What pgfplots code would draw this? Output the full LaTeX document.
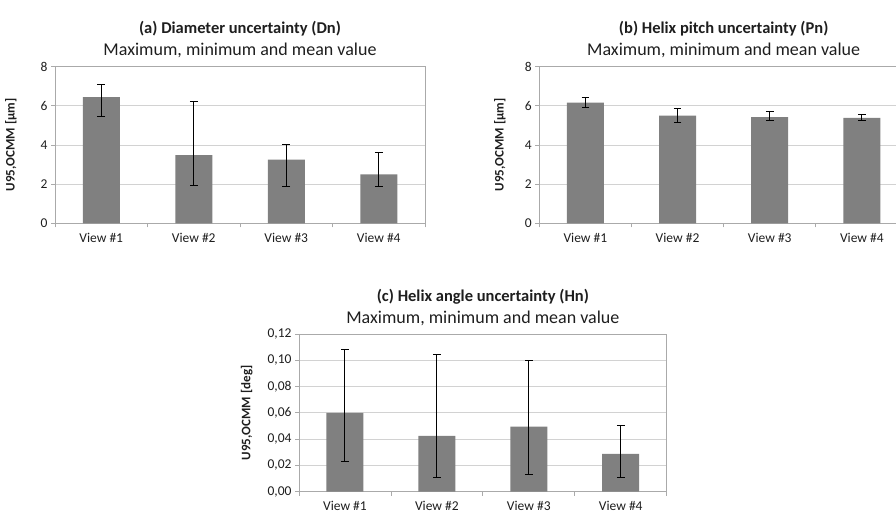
\documentclass[border=0pt]{standalone}
\usepackage{fontspec}
\setmainfont{Carlito}
\usepackage{pgfplots}
\usepackage{pgfplotstable}
\pgfplotsset{compat=1.18}

\pgfplotstableread{
x y max min
0 6.45 7.10 5.45
1 3.48 6.22 1.94
2 3.25 4.02 1.87
3 2.50 3.63 1.87
}\tabA
\pgfplotstableread{
x y max min
0 6.17 6.42 5.90
1 5.50 5.87 5.13
2 5.42 5.69 5.23
3 5.38 5.57 5.24
}\tabB
\pgfplotstableread{
x y max min
0 0.0600 0.1080 0.0230
1 0.0425 0.1045 0.0105
2 0.0495 0.0995 0.0133
3 0.0287 0.0507 0.0105
}\tabC

\definecolor{barg}{RGB}{128,128,128}
\definecolor{gridg}{RGB}{210,210,210}
\definecolor{axg}{RGB}{170,170,170}
\definecolor{txt}{RGB}{30,30,30}

\pgfplotsset{
  myax/.style={
    scale only axis, anchor=south west,
    xmin=-0.5, xmax=3.5, ymin=0,
    xtick={0,1,2,3},
    xticklabels={View \#1, View \#2, View \#3, View \#4},
    major x tick style={draw=none},
    minor xtick={-0.5,0.5,1.5,2.5,3.5},
    minor tick length=4pt, major tick length=4pt,
    tick align=outside, tick pos=left,
    tick style={axg, line width=0.8pt},
    ymajorgrids, major grid style={gridg, line width=0.9pt},
    axis line style={axg, line width=0.8pt},
    /pgf/number format/assume math mode=true,
    tick label style={font=\fontsize{13.5}{16}\selectfont, text=txt},
    xticklabel style={yshift=-2pt},
    ylabel style={font=\bfseries\fontsize{13}{15}\selectfont, anchor=center, text=txt},
    title style={align=center, font=\fontsize{18}{22}\selectfont, at={(0.5,1)}, anchor=south, yshift=-1pt, text=txt},
    bar width=37pt,
  },
  mybar/.style={ybar, fill=barg, draw=none,
    error bars/.cd, y dir=both, y explicit,
    error bar style={black, line width=1pt},
    error mark options={black, line width=1pt, mark size=3.8pt, rotate=90}},
}

\begin{document}
\begin{tikzpicture}
\path[use as bounding box] (0,0) rectangle (896pt,515pt);
% (a)
\begin{axis}[myax, at={(55pt,291.7pt)}, width=370pt, height=156.6pt,
  ymax=8, ytick={0,2,4,6,8},
  ylabel={U95,OCMM [µm]},
  ylabel style={at={(axis description cs:-0.119,0.5)}},
  title={{\fontsize{16.5}{22}\selectfont\bfseries (a) Diameter uncertainty (Dn)}\\Maximum, minimum and mean value}]
\addplot[mybar] table[x=x, y=y,
  y error plus expr=\thisrow{max}-\thisrow{y},
  y error minus expr=\thisrow{y}-\thisrow{min}] {\tabA};
\end{axis}
% (b)
\begin{axis}[myax, at={(539.3pt,291.7pt)}, width=368.7pt, height=156.6pt,
  ymax=8, ytick={0,2,4,6,8},
  ylabel={U95,OCMM [µm]},
  ylabel style={at={(axis description cs:-0.107,0.5)}},
  title={{\fontsize{16.5}{22}\selectfont\bfseries (b) Helix pitch uncertainty (Pn)}\\Maximum, minimum and mean value}]
\addplot[mybar] table[x=x, y=y,
  y error plus expr=\thisrow{max}-\thisrow{y},
  y error minus expr=\thisrow{y}-\thisrow{min}] {\tabB};
\end{axis}
% (c)
\begin{axis}[myax, at={(299pt,23.3pt)}, width=367.7pt, height=157.7pt,
  ymax=0.12, ytick={0,0.02,0.04,0.06,0.08,0.10,0.12},
  yticklabel style={/pgf/number format/.cd, fixed, fixed zerofill, precision=2, use comma},
  scaled y ticks=false,
  ylabel={U95,OCMM [deg]},
  ylabel style={at={(axis description cs:-0.142,0.5)}},
  title={{\fontsize{16.5}{22}\selectfont\bfseries (c) Helix angle uncertainty (Hn)}\\Maximum, minimum and mean value}]
\addplot[mybar] table[x=x, y=y,
  y error plus expr=\thisrow{max}-\thisrow{y},
  y error minus expr=\thisrow{y}-\thisrow{min}] {\tabC};
\end{axis}
\end{tikzpicture}
\end{document}
